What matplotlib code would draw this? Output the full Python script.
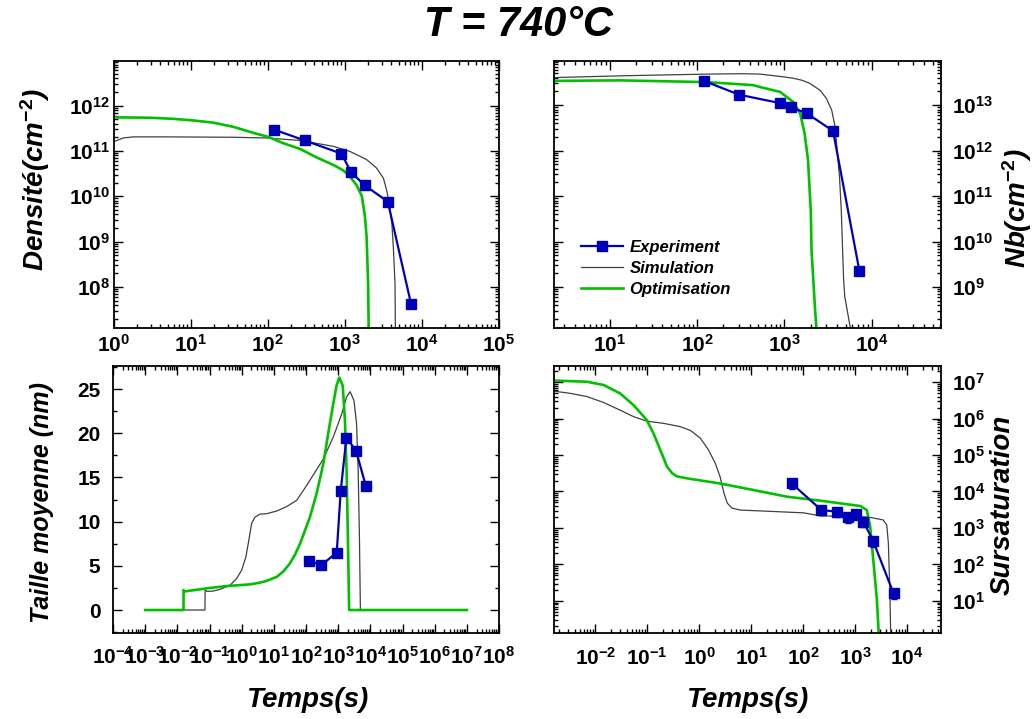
import matplotlib
matplotlib.use("Agg")
import matplotlib.pyplot as plt
from matplotlib.ticker import LogLocator, FuncFormatter, NullFormatter, MultipleLocator
import numpy as np

plt.rcParams['font.family'] = ['Liberation Sans', 'DejaVu Sans']
plt.rcParams['font.weight'] = 'bold'
plt.rcParams['mathtext.fontset'] = 'custom'
plt.rcParams['mathtext.rm'] = 'Liberation Sans:bold'
plt.rcParams['mathtext.bf'] = 'Liberation Sans:bold'
plt.rcParams['mathtext.it'] = 'Liberation Sans:bold:italic'

### DATA

# experiment times [s]
exp_t = [120, 300, 900, 1200, 1800, 3600, 7200]

# top left : Densite
exp_dens = [2.95e11, 1.7e11, 8.7e10, 3.4e10, 1.75e10, 7.6e9, 4.3e7]
sim_dens_t = [1.0, 1.32, 1.78, 4.8, 35.5, 95, 263, 708, 1150, 1900, 2570, 3160, 3470,
              3760, 4070, 4270, 4470, 4570]
sim_dens = [1.6e11, 1.93e11, 2.04e11, 2.04e11, 2.0e11, 1.93e11, 1.7e11, 1.26e11,
            9.8e10, 6.5e10, 4.2e10, 2.5e10, 1.38e10, 7.1e9, 2.5e9, 6.5e8, 1.2e8, 1e6]
opt_dens_t = [1.0, 2.9, 5.9, 10.7, 19.5, 35.5, 64.6, 100, 158, 263, 427, 708, 955,
              1150, 1410, 1660, 1820, 1910, 2000, 2070]
opt_dens = [5.5e11, 5.4e11, 5.1e11, 4.7e11, 4.2e11, 3.4e11, 2.5e11, 2.05e11, 1.48e11,
            1.1e11, 7.2e10, 4.9e10, 3.7e10, 2.75e10, 1.78e10, 1.0e10, 3.5e9, 1.3e9,
            1.2e8, 1e6]

# top right : Nb
exp_nb = [3.4e13, 1.7e13, 1.1e13, 8.9e12, 6.6e12, 2.7e12, 2.3e9]
sim_nb_t = [2.0, 13, 129, 330, 525, 955, 1260, 1600, 1950, 2570, 3020, 3470, 3800,
            3980, 4270, 4470, 4750, 4900, 5800]
sim_nb = [4.0e13, 4.4e13, 4.8e13, 4.9e13, 4.8e13, 4.2e13, 3.9e13, 3.5e13, 3.0e13,
          2.1e13, 1.4e13, 7.8e12, 3.3e12, 1.2e12, 2.6e11, 4.9e10, 1.5e9, 6.2e8, 1e8]
opt_nb_t = [2.0, 13, 129, 436, 525, 890, 1260, 1510, 1700, 1860, 1950, 2000, 2040,
            2240, 2400]
opt_nb = [3.4e13, 3.5e13, 3.2e13, 2.75e13, 2.5e13, 1.95e13, 1.17e13, 6.6e12, 2.4e12,
          6.2e11, 1.15e11, 4.9e10, 6.5e9, 3.2e8, 5e7]

# bottom left : Taille moyenne
exp_size = [5.57, 5.08, 6.5, 13.5, 19.5, 18.0, 14.05]
sim_size_t = [1e-3, 0.072, 0.073, 0.085, 0.13, 0.21, 0.44, 0.70, 1.0, 1.35, 1.74,
              2.04, 2.57, 3.7, 6.0, 12.3, 25, 51, 105, 347, 708, 1290, 1820, 2340,
              3090, 3720, 4170, 4570, 4900, 1e7]
sim_size = [0, 0, 2.26, 2.1, 2.15, 2.33, 2.82, 3.58, 4.52, 6.0, 8.3,
            9.8, 10.5, 10.85, 10.9, 11.2, 11.7, 12.4, 14.1, 17.1, 19.6, 22.2, 24.1, 24.7,
            23.7, 21.1, 15.8, 8.3, 0, 0]
opt_size_t = [1e-3, 0.0155, 0.0156, 0.0166, 0.081, 0.34, 0.89, 1.82, 3.7, 6.0, 12.3,
              19.5, 31.6, 46, 65, 132, 214, 347, 490, 708, 890, 1080, 1380, 1620,
              1820, 2000, 2190, 1e7]
opt_size = [0, 0, 2.26, 2.1, 2.45, 2.71, 2.82, 2.9, 3.1, 3.3, 3.75,
            4.35, 5.27, 6.3, 7.5, 10.5, 13.2, 16.6, 20.0, 23.4, 25.4, 26.3, 25.4, 21.5,
            15.8, 8.3, 0, 0]

# bottom right : Sursaturation
exp_ss_t = [60, 224, 447, 745, 1050, 1450, 2240, 5500]
exp_ss = [1.67e4, 3.1e3, 2.8e3, 2.0e3, 2.4e3, 1.5e3, 4.3e2, 16]
exp_ss_err = [5000, 900, 800, 600, 700, 450, 130, 5]
sim_ss_t = [1.66e-3, 3.3e-3, 6.9e-3, 0.0145, 0.030, 0.055, 0.098, 0.204, 0.43, 0.68,
            1.05, 1.51, 2.04, 2.51, 3.0, 3.47, 4.27, 6.2, 102, 214, 933, 1950, 3470,
            4070, 4370, 4680, 4900]
sim_ss = [5.6e6, 4.9e6, 4.0e6, 2.75e6, 1.7e6, 1.12e6, 8.5e5, 7.4e5, 6.0e5, 4.7e5,
          2.9e5, 1.38e5, 5.9e4, 2.6e4, 8.9e3, 4.8e3, 3.5e3, 3.1e3, 2.6e3, 2.15e3,
          2.05e3, 1.95e3, 1.66e3, 1.2e3, 380, 16, 0.5]
opt_ss_t = [1.66e-3, 6.9e-3, 0.0145, 0.030, 0.055, 0.098, 0.132, 0.178, 0.24, 0.30,
            0.37, 0.575, 2.5, 11, 49, 214, 1260, 1680, 1950, 2240, 2630, 2950]
opt_ss = [1.1e7, 1.02e7, 8.3e6, 4.9e6, 2.3e6, 9.1e5, 3.9e5, 1.38e5, 4.8e4, 3.2e4,
          2.6e4, 2.3e4, 1.66e4, 1.1e4, 7.2e3, 5.6e3, 4.0e3, 3.1e3, 1.1e3, 132, 10.7, 0.5]

blue = '#0000B8'
green = '#00C000'
gray = '#404040'

fig = plt.figure(figsize=(10.36, 7.19), dpi=100)

ax1 = fig.add_axes([0.1100, 0.5438, 0.3716, 0.3713])
ax2 = fig.add_axes([0.5347, 0.5438, 0.3736, 0.3713])
ax3 = fig.add_axes([0.1091, 0.1196, 0.3726, 0.3713])
ax4 = fig.add_axes([0.5347, 0.1196, 0.3736, 0.3713])

pow_fmt = FuncFormatter(lambda v, p: r'$\mathbf{10^{%d}}$' % int(round(np.log10(v))))


def style(ax, logx=True, logy=True, right=False, xpad=4, ypad=3):
    ax.tick_params(which='both', direction='in', top=True, right=True,
                   labelsize=15, width=1.0)
    ax.tick_params(which='major', length=6.5)
    ax.tick_params(which='minor', length=3.2)
    ax.tick_params(axis='x', pad=xpad)
    ax.tick_params(axis='y', pad=ypad)
    if right:
        ax.tick_params(axis='y', labelleft=False, labelright=True)
    if logx:
        ax.xaxis.set_major_locator(LogLocator(base=10, numticks=30))
        ax.xaxis.set_minor_locator(LogLocator(base=10, subs=np.arange(2, 10), numticks=30))
        ax.xaxis.set_major_formatter(pow_fmt)
        ax.xaxis.set_minor_formatter(NullFormatter())
    if logy:
        ax.yaxis.set_major_locator(LogLocator(base=10, numticks=30))
        ax.yaxis.set_minor_locator(LogLocator(base=10, subs=np.arange(2, 10), numticks=30))
        ax.yaxis.set_major_formatter(pow_fmt)
        ax.yaxis.set_minor_formatter(NullFormatter())
    for s in ax.spines.values():
        s.set_linewidth(1.3)


lab = dict(fontsize=20, fontweight='bold', fontstyle='italic')

# top left
ax1.set_xscale('log')
ax1.set_yscale('log')
ax1.plot(sim_dens_t, sim_dens, color=gray, lw=0.9)
ax1.plot(opt_dens_t, opt_dens, color=green, lw=1.9)
ax1.plot(exp_t, exp_dens, color=blue, lw=1.6, marker='s', ms=6.5)
ax1.set_xlim(1, 1e5)
ax1.set_ylim(1.24e7, 9.6e12)
style(ax1)
ax1.set_ylabel(r'Densité(cm$^{-2}$)', **lab)
ax1.yaxis.set_label_coords(-0.205, 0.555)
ax1.yaxis.label.set_va('center')

# top right
ax2.set_xscale('log')
ax2.set_yscale('log')
ax2.plot(exp_t, exp_nb, color=blue, lw=1.6, marker='s', ms=6.5, label='Experiment', zorder=3)
ax2.plot(sim_nb_t, sim_nb, color=gray, lw=0.9, label='Simulation')
ax2.plot(opt_nb_t, opt_nb, color=green, lw=1.9, label='Optimisation')
ax2.set_xlim(2.29, 6.2e4)
ax2.set_ylim(1.26e8, 9.3e13)
style(ax2, right=True, ypad=8)
ax2.yaxis.set_label_position('right')
ax2.set_ylabel(r'Nb(cm$^{-2}$)', **lab)
ax2.yaxis.set_label_coords(1.196, 0.45)
ax2.yaxis.label.set_va('center')
ax2.yaxis.label.set_rotation(90)
ax2.legend(loc='upper left', bbox_to_anchor=(0.07, 0.33), frameon=False,
           prop=dict(size=12, weight='bold', style='italic'), handlelength=2.5,
           handletextpad=0.4, labelspacing=0.37, borderpad=0, borderaxespad=0,
           numpoints=1)

# bottom left
ax3.set_xscale('log')
ax3.plot(sim_size_t, sim_size, color=gray, lw=0.9)
ax3.plot(opt_size_t, opt_size, color=green, lw=1.9)
ax3.plot(exp_t, exp_size, color=blue, lw=1.6, marker='s', ms=6.5)
ax3.set_xlim(1e-4, 1e8)
ax3.set_ylim(-2.6, 27.6)
style(ax3, logy=False, xpad=9, ypad=9)
ax3.yaxis.set_major_locator(MultipleLocator(5))
ax3.yaxis.set_minor_locator(MultipleLocator(2.5))
ax3.set_ylabel('Taille moyenne (nm)', fontsize=18, fontweight='bold', fontstyle='italic')
ax3.yaxis.set_label_coords(-0.184, 0.49)
ax3.yaxis.label.set_va('center')
ax3.set_xlabel('Temps(s)', **lab)
ax3.xaxis.set_label_coords(0.504, -0.25)
ax3.xaxis.label.set_va('center')

# bottom right
ax4.set_xscale('log')
ax4.set_yscale('log')
ax4.plot(sim_ss_t, sim_ss, color=gray, lw=0.9)
ax4.plot(opt_ss_t, opt_ss, color=green, lw=1.9)
ax4.errorbar(exp_ss_t, exp_ss, yerr=exp_ss_err, color=blue, lw=1.6, marker='s', ms=6.5,
             capsize=2.5, elinewidth=1.0)
ax4.set_xlim(1.6e-3, 4.5e4)
ax4.set_ylim(1.32, 2.75e7)
style(ax4, right=True, xpad=10, ypad=8)
ax4.yaxis.set_label_position('right')
ax4.set_ylabel('Sursaturation', **lab)
ax4.yaxis.set_label_coords(1.16, 0.48)
ax4.yaxis.label.set_va('center')
ax4.yaxis.label.set_rotation(90)
ax4.set_xlabel('Temps(s)', **lab)
ax4.xaxis.set_label_coords(0.50, -0.25)
ax4.xaxis.label.set_va('center')

fig.text(0.5, 1 - 25 / 719, 'T = 740°C', fontsize=30, fontweight='bold',
         fontstyle='italic', ha='center', va='center')

fig.savefig('out.png', dpi=100)
